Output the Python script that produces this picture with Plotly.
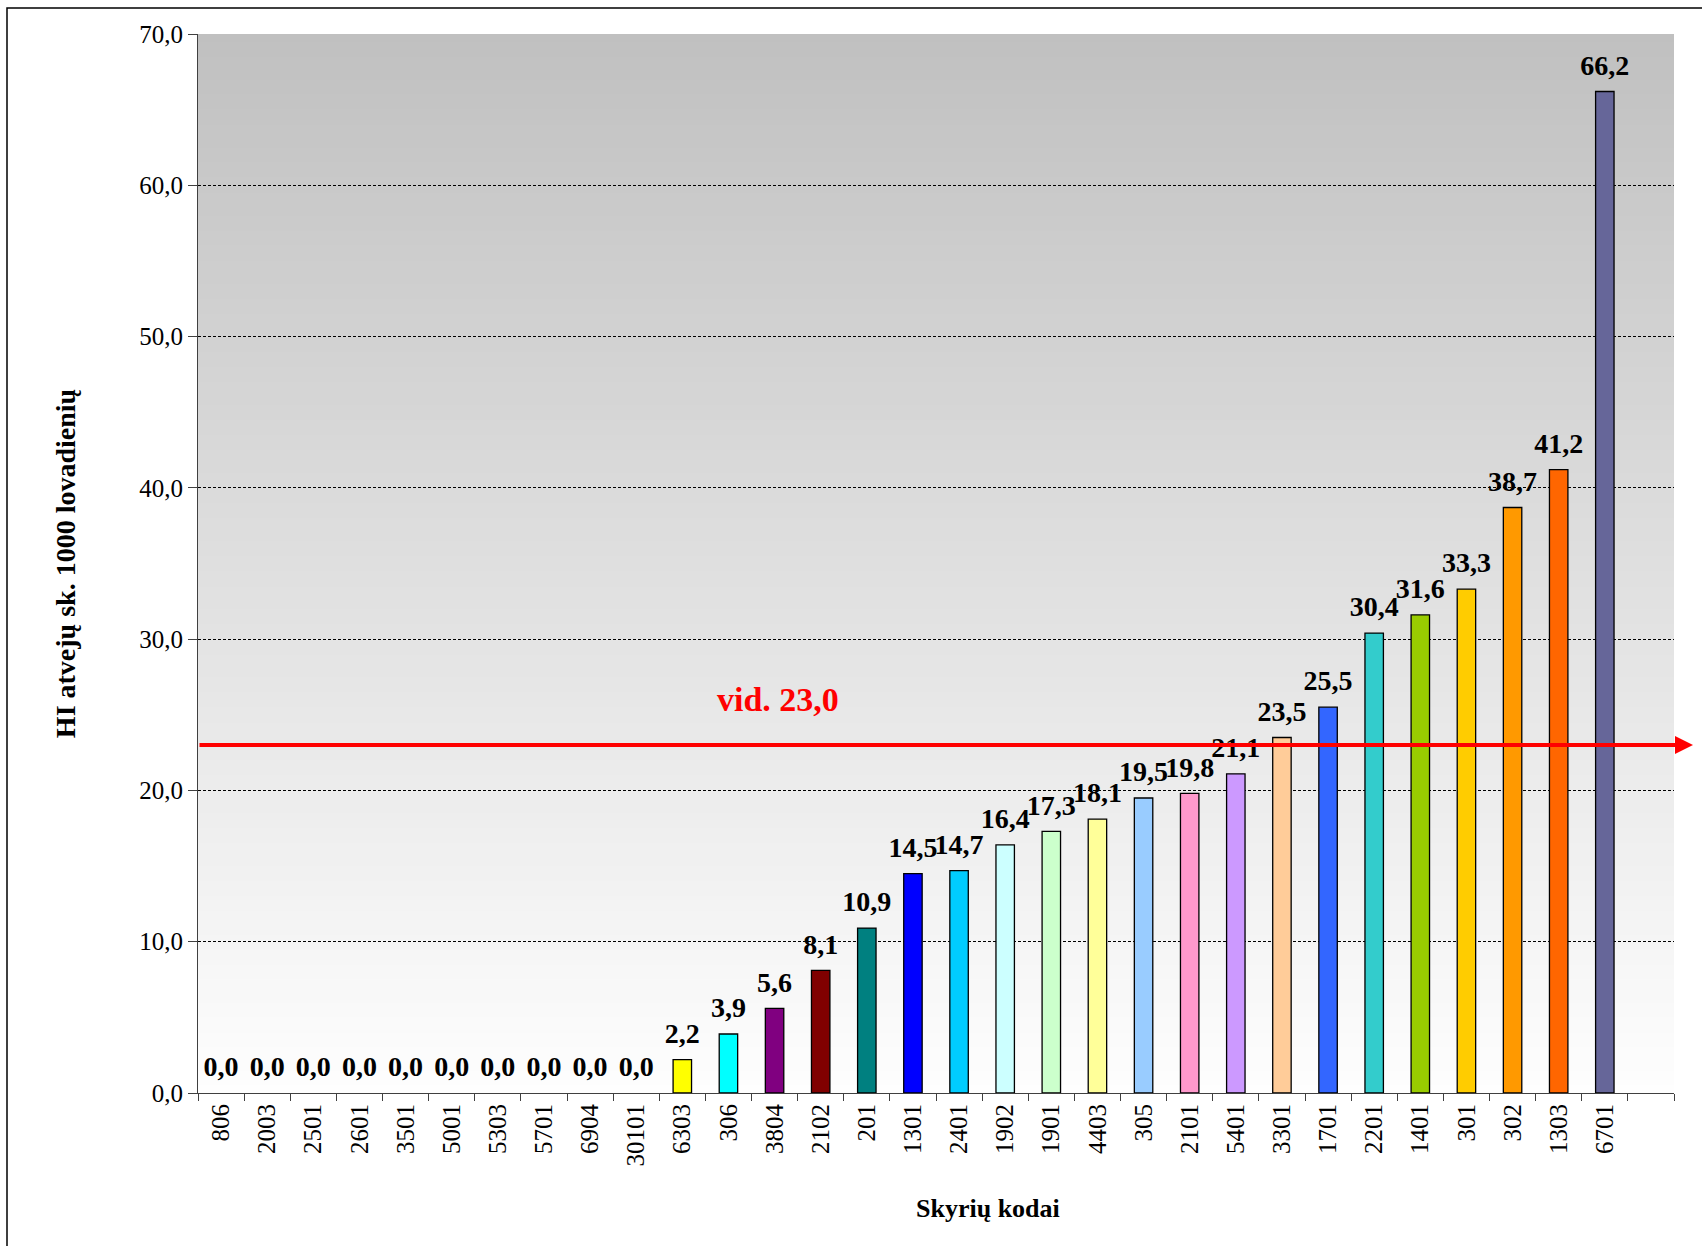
import plotly.graph_objects as go

# ---- data ----
codes = ["806", "2003", "2501", "2601", "3501", "5001", "5303", "5701", "6904", "30101",
         "6303", "306", "3804", "2102", "201", "1301", "2401", "1902", "1901", "4403",
         "305", "2101", "5401", "3301", "1701", "2201", "1401", "301", "302", "1303", "6701"]
values = [0.0, 0.0, 0.0, 0.0, 0.0, 0.0, 0.0, 0.0, 0.0, 0.0,
          2.2, 3.9, 5.6, 8.1, 10.9, 14.5, 14.7, 16.4, 17.3, 18.1,
          19.5, 19.8, 21.1, 23.5, 25.5, 30.4, 31.6, 33.3, 38.7, 41.2, 66.2]
bar_colors = ["#FFFFFF"] * 10 + [
    "#FFFF00", "#00FFFF", "#800080", "#800000", "#008080", "#0000FF", "#00CCFF",
    "#CCFFFF", "#CCFFCC", "#FFFF99", "#99CCFF", "#FF99CC", "#CC99FF", "#FFCC99",
    "#3366FF", "#33CCCC", "#99CC00", "#FFCC00", "#FF9900", "#FF6600", "#666699"]
y_ticks = [0, 10, 20, 30, 40, 50, 60, 70]
mean_value = 23.0
mean_label = "vid. " + f"{mean_value:.1f}".replace(".", ",")
y_title = "HI atvejų sk. 1000 lovadienių"
x_title = "Skyrių kodai"
category_slots = codes + [" "]  # trailing empty slot as in the original

label_texts = [f"{v:.1f}".replace(".", ",") for v in values]
outline_widths = [1.3 if v > 0 else 0 for v in values]

FONT = "Liberation Serif, Times New Roman, serif"

W, H = 1702, 1246
ML, MR, MT, MB = 198, 28, 34, 153
plot_w = W - ML - MR
plot_h = H - MT - MB

fig = go.Figure()

fig.add_trace(go.Bar(
    x=codes, y=values,
    marker=dict(color=bar_colors, line=dict(color="#000000", width=outline_widths)),
    width=0.4,
    hoverinfo="x+y",
    showlegend=False,
))

fig.add_trace(go.Scatter(
    x=codes, y=values, text=label_texts, mode="markers+text",
    marker=dict(size=14, opacity=0),
    textposition="top center",
    textfont=dict(family=FONT, size=28, color="#000000", weight="bold"),
    hoverinfo="skip", showlegend=False, cliponaxis=False,
))

# vertical gradient background (gray at top -> white at bottom)
shapes = []
n_bands = 140
y_top = y_ticks[-1]
for i in range(n_bands):
    y0 = y_top * i / n_bands
    y1 = min(y_top, y_top * (i + 1) / n_bands + 0.25)
    frac = (i + 0.5) / n_bands  # 0 at bottom, 1 at top
    g = int(round(254 - frac * (254 - 192)))
    shapes.append(dict(type="rect", xref="paper", yref="y", x0=0, x1=1, y0=y0, y1=y1,
                       fillcolor=f"rgb({g},{g},{g})", line=dict(width=0), layer="below"))

# outer frame
shapes.append(dict(type="rect", xref="paper", yref="paper",
                   x0=(7 - ML) / plot_w, x1=(W + 20 - ML) / plot_w,
                   y0=-(MB + 20) / plot_h, y1=(plot_h + MT - 8) / plot_h,
                   line=dict(color="#000000", width=1.5), fillcolor="rgba(0,0,0,0)", layer="above"))

fig.update_layout(shapes=shapes)

# average line with arrow
head_px = 1693
fig.add_annotation(
    x=(head_px - ML) / plot_w, xref="paper", y=mean_value, yref="y",
    ax=-(head_px - ML), ay=0, axref="pixel", ayref="pixel",
    text="", showarrow=True, arrowhead=2, arrowsize=0.9, arrowwidth=4,
    arrowcolor="#FF0000",
)
fig.add_annotation(
    x=(778 - ML) / plot_w, xref="paper", y=26.0, yref="y",
    text=mean_label, showarrow=False,
    font=dict(family=FONT, size=34, color="#FF0000", weight="bold"),
)
# x axis title
fig.add_annotation(
    x=(988 - ML) / plot_w, xref="paper", y=((H - MB) - 1208) / plot_h, yref="paper",
    yanchor="middle", text=x_title, showarrow=False,
    font=dict(family=FONT, size=26, color="#000000", weight="bold"),
)

fig.update_layout(
    width=W, height=H,
    margin=dict(l=ML, r=MR, t=MT, b=MB, autoexpand=False),
    paper_bgcolor="#FFFFFF",
    plot_bgcolor="rgba(0,0,0,0)",
    separators=",.",
    bargap=0.6,
    font=dict(family=FONT, color="#000000"),
    xaxis=dict(
        type="category", categoryorder="array", categoryarray=category_slots,
        range=[-0.5, len(category_slots) - 0.5],
        tickson="boundaries", ticks="outside", ticklen=7, tickcolor="#404040", tickwidth=1,
        showline=True, linecolor="#404040", linewidth=1.2,
        tickangle=-90, tickfont=dict(family=FONT, size=25, color="#000000"),
        showgrid=False, zeroline=False,
        automargin=False,
    ),
    yaxis=dict(
        range=[0, y_top], tickvals=y_ticks, tickformat=".1f",
        ticks="outside", ticklen=9, tickcolor="#404040", tickwidth=1,
        showline=True, linecolor="#404040", linewidth=1.2,
        tickfont=dict(family=FONT, size=25, color="#000000"),
        showgrid=True, gridcolor="#000000", gridwidth=1, griddash="3px,2px",
        zeroline=False,
        title=dict(text=y_title, font=dict(family=FONT, size=28, color="#000000", weight="bold"),
                   standoff=55),
        automargin=False,
    ),
)

fig.write_html("out.html", config={"displayModeBar": False},
               post_script="document.body.style.margin='0';")
